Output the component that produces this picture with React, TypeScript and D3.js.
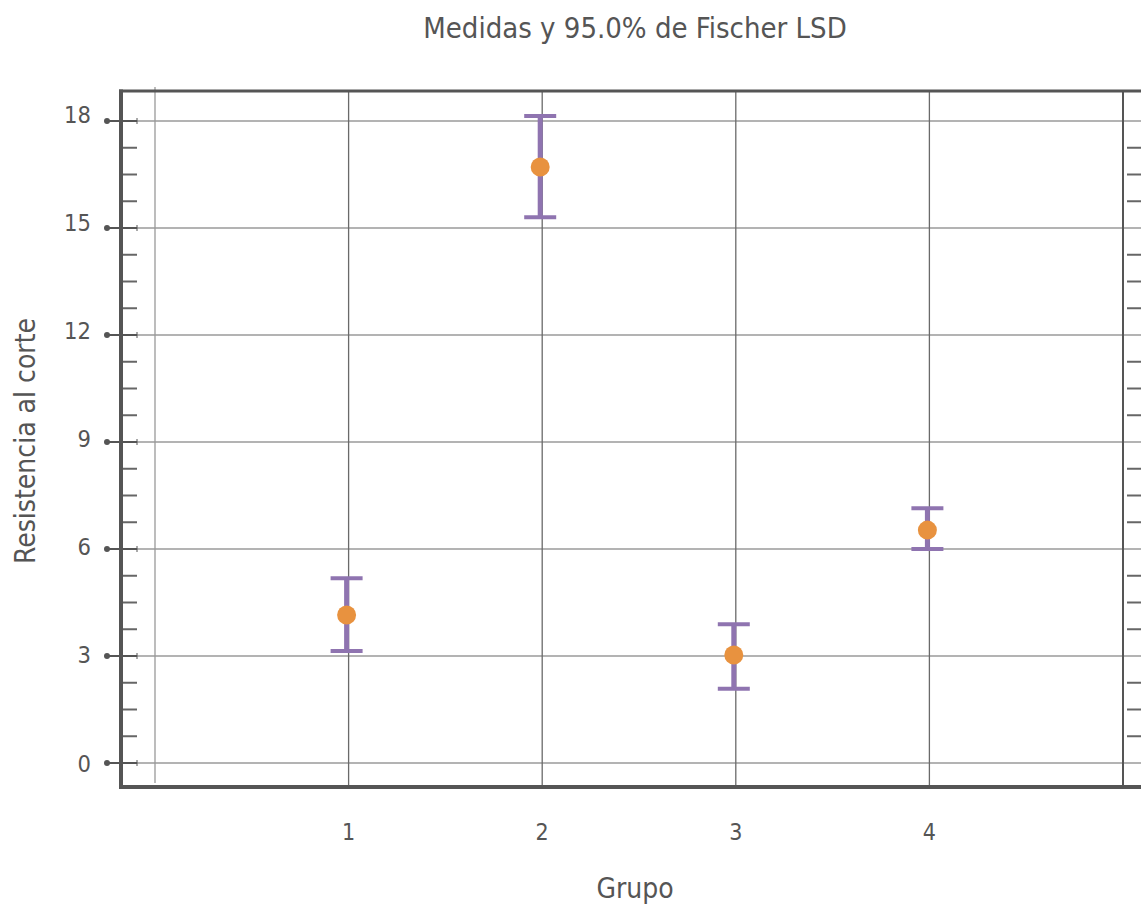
import React from "react";
import * as d3 from "d3";

const W = 1141;
const H = 905;

const groups = [1, 2, 3, 4];
const means = [4.15, 16.71, 3.03, 6.53];
const upper = [5.18, 18.14, 3.89, 7.14];
const lower = [3.14, 15.3, 2.08, 6.0];
const yTicks = [0, 3, 6, 9, 12, 15, 18];

const INK = "#555";
const FONT = "'DejaVu Sans Condensed', 'DejaVu Sans', sans-serif";
const PURPLE = "#8f74b0";
const ORANGE = "#e8923f";

const LEFT = 121;
const TOP = 91;
const BOTTOM = 787;

const App = () => {
  const x = d3.scaleLinear().domain([0, 5]).range([155, 1123]);
  const y = d3.scaleLinear().domain([0, 18]).range([763, 121]);
  // the tick labels sit slightly off their ticks in the original
  const yLab = d3.scaleLinear().domain([0, 18]).range([763, 114]);

  const minor = d3.range(0, 18.01, 0.75).filter((v) => Math.abs(v % 3) > 0.01);
  const xGrid = d3.range(0, 6);

  return (
    <svg
      width={W}
      height={H}
      style={{ position: "absolute", left: 0, top: 0, background: "#fff" }}
      fontFamily={FONT}
    >
      <text x={635} y={38} textAnchor="middle" fontSize={29} fill={INK}>
        Medidas y 95.0% de Fischer LSD
      </text>

      {/* horizontal grid */}
      {yTicks.map((t) => (
        <line key={"h" + t} x1={LEFT} x2={W} y1={y(t)} y2={y(t)} stroke="#9a9a9a" strokeWidth={1.6} />
      ))}

      {/* vertical grid */}
      {xGrid.map((g) => (
        <line
          key={"v" + g}
          x1={x(g)}
          x2={x(g)}
          y1={g === 0 ? 87 : TOP}
          y2={g === 0 ? 783 : BOTTOM}
          stroke={g === 0 ? "#999" : g === 5 ? INK : "#6a6a6a"}
          strokeWidth={g === 5 ? 2 : 1.3}
        />
      ))}

      {/* minor ticks left and right */}
      {minor.map((m) => (
        <g key={"m" + m}>
          <line x1={LEFT} x2={137} y1={y(m)} y2={y(m)} stroke="#666" strokeWidth={2} />
          <line x1={1127} x2={W} y1={y(m)} y2={y(m)} stroke="#666" strokeWidth={2} />
        </g>
      ))}

      {/* major ticks */}
      {yTicks.map((t) => (
        <g key={"t" + t}>
          <line x1={107} x2={137} y1={y(t)} y2={y(t)} stroke={INK} strokeWidth={2} />
          <line x1={137} x2={137} y1={y(t) - 3} y2={y(t) + 3} stroke={INK} strokeWidth={1} />
          <circle cx={107} cy={y(t)} r={3} fill={INK} />
          <text x={91} y={yLab(t) + 8.5} textAnchor="end" fontSize={23.5} fill={INK}>
            {t}
          </text>
        </g>
      ))}

      {/* frame */}
      <line x1={LEFT - 2} x2={W} y1={TOP} y2={TOP} stroke={INK} strokeWidth={3} />
      <line x1={LEFT} x2={LEFT} y1={TOP - 1.5} y2={BOTTOM + 2} stroke={INK} strokeWidth={4} />
      <line x1={LEFT - 2} x2={W} y1={BOTTOM} y2={BOTTOM} stroke={INK} strokeWidth={4} />

      {/* error bars */}
      {groups.map((g, i) => {
        const cx = x(g);
        return (
          <g key={"e" + g}>
            <line x1={cx - 2} x2={cx - 2} y1={y(upper[i])} y2={y(lower[i])} stroke={PURPLE} strokeWidth={5} />
            <line x1={cx - 18} x2={cx + 14} y1={y(upper[i])} y2={y(upper[i])} stroke={PURPLE} strokeWidth={4} />
            <line x1={cx - 18} x2={cx + 14} y1={y(lower[i])} y2={y(lower[i])} stroke={PURPLE} strokeWidth={4} />
            <circle cx={cx - 2} cy={y(means[i])} r={9.5} fill={ORANGE} />
          </g>
        );
      })}

      {/* x tick labels */}
      {groups.map((g) => (
        <text key={"xl" + g} x={x(g)} y={840} textAnchor="middle" fontSize={23} fill={INK}>
          {g}
        </text>
      ))}

      <text x={635} y={898} textAnchor="middle" fontSize={28} fill={INK}>
        Grupo
      </text>
      <text
        transform={`translate(35, 441) rotate(-90)`}
        textAnchor="middle"
        fontSize={28}
        fill={INK}
      >
        Resistencia al corte
      </text>
    </svg>
  );
};

export default App;
